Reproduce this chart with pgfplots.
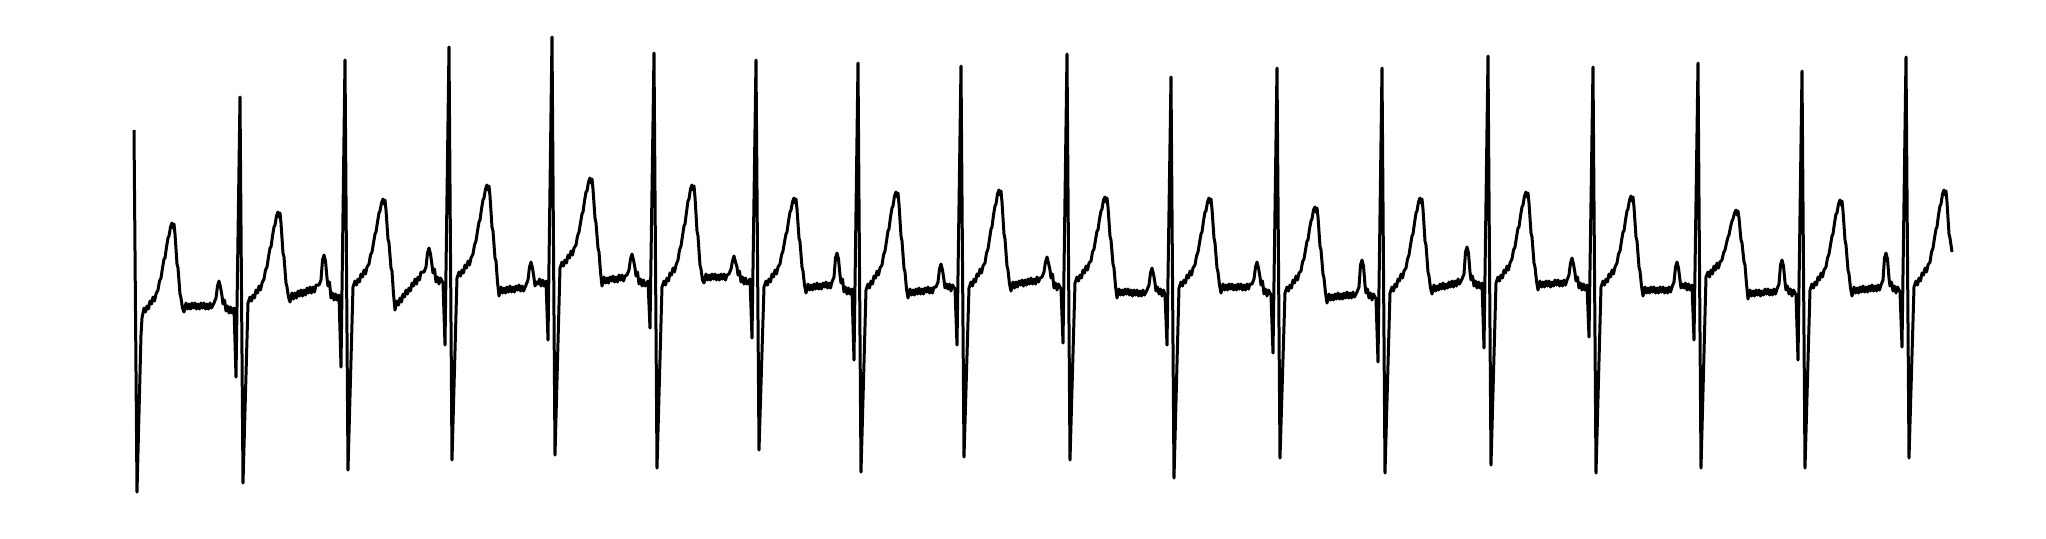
\documentclass[border=0pt]{standalone}
\usepackage{pgfplots}
\pgfplotsset{compat=1.18}
\begin{document}
\begin{tikzpicture}
\begin{axis}[
  at={(0,0)}, anchor=south west,
  width=511.5pt, height=134.5pt, scale only axis,
  xmin=0, xmax=2046, ymin=0, ymax=538, y dir=reverse,
  hide axis, clip=false]
\addplot[black, line width=0.75pt, line join=round, mark=none] coordinates {
(134,130)(137,492)(141,335)(142,318)
(144,308)(145.5,312)(147,306)(148.5,309)(150,301)(151.5,304)(153,297)(154.5,301)(156,294)
(158,290)(159.5,281)(161,278)(162.5,268)(164,259)(165,258)(166.5,247)(168,238)(169,236)(170.5,227)(172,223)(173,228)(174,224)(175,234)(177,264)(178,268)(180,294)(181,298)(182.5,308)(184,312)
(186,303)(187.5,309)(189,304)(190.5,309)(192,303)(193.5,308)(195,303)(196.5,309)(198,304)(199.5,309)(201,303)(202.5,308)(204,303)(205.5,309)(207,304)(208.5,309)(210,303)(211.5,308)
(214,303)(216,298)(217.5,286)(219,281)(220.5,287)(222,296)(223,304)(224.5,300)(226,311)(227.5,306)(229,313)(230.5,307)(232,313)(234,308)
(236,377)(240,97)(243,483)(248,303)
(250,297)(251.5,301)(253,295)(254.5,298)(256,290)(257.5,293)(259,286)(260.5,290)(262,283)
(264,279)(265.5,270)(267,267)(268.5,257)(270,248)(271,247)(272.5,236)(274,227)(275,225)(276.5,216)(278,212)(279,217)(280,213)(281,223)(283,253)(284,257)(286,283)(287,287)(288.5,297)(290,302)
(292,293)(293.5,299)(295,293)(296.5,298)(298,291)(299.5,296)(301,290)(302.5,296)(304,290)(305.5,295)(307,288)(308.5,293)(310,287)(311.5,293)(313,287)(314.5,292)(316,285)
(319,285)(321,280)(322.5,260)(324,255)(325.5,261)(327,278)(328,286)(329.5,282)(331,298)(332.5,293)(334,300)(335.5,294)(337,300)(339,295)
(341,367)(345,60)(348,470)(353,287)
(355,281)(356.5,285)(358,279)(359.5,282)(361,274)(362.5,277)(364,270)(365.5,274)(367,267)
(369,264)(370.5,255)(372,252)(373.5,243)(375,234)(376,232)(377.5,222)(379,213)(380,211)(381.5,203)(383,199)(384,204)(385,200)(386,210)(388,239)(389,243)(391,268)(392,271)(393.5,294)(395,310)
(397,301)(398.5,305)(400,298)(401.5,302)(403,294)(404.5,297)(406,290)(407.5,294)(409,288)(410.5,291)(412,283)(413.5,286)(415,279)(416.5,284)(418,277)(419.5,280)(421,272)
(424,272)(426,267)(427.5,253)(429,248)(430.5,254)(432,265)(433,273)(434.5,269)(436,282)(437.5,277)(439,284)(440.5,278)(443,283)
(445,345)(449,47)(452,460)(457,278)
(459,272)(460.5,276)(462,270)(463.5,273)(465,265)(466.5,268)(468,261)(469.5,265)(471,258)
(473,254)(474.5,245)(476,241)(477.5,231)(479,222)(480,220)(481.5,209)(483,200)(484,198)(485.5,189)(487,185)(488,190)(489,186)(490,196)(492,227)(493,231)(495,258)(496,261)(497.5,282)(499,296)
(501,287)(502.5,293)(504,288)(505.5,293)(507,287)(508.5,292)(510,286)(511.5,292)(513,287)(514.5,292)(516,286)(517.5,290)(519,285)(520.5,291)(522,286)(523.5,291)
(526,285)(528,280)(529.5,267)(531,262)(532.5,268)(534,278)(535,286)(536.5,282)(538,284)(539.5,279)(541,286)(542.5,280)(544,286)(546,281)
(548,340)(552,37)(555,455)(560,268)
(562,262)(563.5,266)(565,260)(566.5,263)(568,255)(569.5,258)(571,251)(572.5,255)(574,248)
(576,245)(577.5,236)(579,232)(580.5,223)(582,214)(583,212)(584.5,201)(586,192)(587,191)(588.5,182)(590,178)(591,183)(592,179)(593,189)(595,218)(596,223)(598,248)(599,252)(600.5,272)(602,286)
(604,277)(605.5,283)(607,278)(608.5,283)(610,277)(611.5,281)(613,276)(614.5,282)(616,277)(617.5,282)(619,275)(620.5,280)(622,275)(623.5,281)(625,276)
(627,275)(629,270)(630.5,259)(632,254)(633.5,260)(635,268)(636,276)(637.5,272)(639,284)(640.5,279)(642,286)(643.5,280)(645,286)(648,281)
(650,328)(654,53)(657,468)(662,287)
(664,281)(665.5,285)(667,278)(668.5,281)(670,273)(671.5,275)(673,268)(674.5,272)(676,265)
(678,260)(679.5,250)(681,246)(682.5,236)(684,226)(685,224)(686.5,212)(688,201)(689,199)(690.5,189)(692,185)(693,190)(694,186)(695,197)(697,231)(698,236)(700,265)(701,269)(702.5,280)(704,283)
(706,274)(707.5,280)(709,275)(710.5,280)(712,274)(713.5,279)(715,274)(716.5,280)(718,275)(719.5,280)(721,274)(722.5,279)(724,274)(725.5,280)(727,275)
(729,274)(731,269)(732.5,261)(734,256)(735.5,262)(737,267)(738,275)(739.5,271)(741,282)(742.5,277)(744,284)(745.5,278)(747,284)(750,279)
(752,338)(756,60)(759,450)(764,287)
(766,281)(767.5,285)(769,279)(770.5,282)(772,274)(773.5,277)(775,270)(776.5,274)(778,267)
(780,264)(781.5,255)(783,251)(784.5,242)(786,234)(787,232)(788.5,221)(790,212)(791,210)(792.5,202)(794,198)(795,203)(796,199)(797,209)(799,238)(800,242)(802,267)(803,271)(804.5,285)(806,293)
(808,284)(809.5,290)(811,285)(812.5,290)(814,284)(815.5,289)(817,283)(818.5,289)(820,284)(821.5,289)(823,283)(824.5,287)(826,282)(827.5,288)(829,283)(830.5,288)
(832,282)(834,277)(835.5,258)(837,253)(838.5,259)(840,275)(841,283)(842.5,279)(844,292)(845.5,287)(847,294)(848.5,288)(850,294)(852,289)
(854,360)(858,63)(861,472)(866,290)
(868,284)(869.5,288)(871,281)(872.5,284)(874,276)(875.5,278)(877,271)(878.5,275)(880,268)
(882,265)(883.5,255)(885,251)(886.5,241)(888,231)(889,229)(890.5,217)(892,208)(893,206)(894.5,196)(896,192)(897,197)(898,193)(899,204)(901,236)(902,241)(904,268)(905,272)(906.5,289)(908,298)
(910,289)(911.5,295)(913,290)(914.5,295)(916,289)(917.5,294)(919,288)(920.5,294)(922,289)(923.5,294)(925,288)(926.5,292)(928,287)(929.5,293)(931,288)(932.5,293)(934,287)
(936,287)(938,282)(939.5,269)(941,264)(942.5,270)(944,280)(945,288)(946.5,284)(948,289)(949.5,284)(951,291)(952.5,285)(955,289)
(957,345)(961,66)(964,457)(969,288)
(971,282)(972.5,286)(974,279)(975.5,282)(977,274)(978.5,276)(980,269)(981.5,273)(983,266)
(985,263)(986.5,253)(988,249)(989.5,239)(991,229)(992,227)(993.5,215)(995,206)(996,204)(997.5,194)(999,190)(1000,195)(1001,191)(1002,202)(1004,234)(1005,239)(1007,266)(1008,270)(1009.5,284)(1011,291)
(1013,282)(1014.5,288)(1016,282)(1017.5,287)(1019,281)(1020.5,285)(1022,280)(1023.5,286)(1025,280)(1026.5,285)(1028,279)(1029.5,284)(1031,278)(1032.5,284)(1034,279)(1035.5,284)(1037,277)(1038.5,282)(1040,278)
(1042,277)(1044,272)(1045.5,262)(1047,257)(1048.5,263)(1050,270)(1051,278)(1052.5,274)(1054,288)(1055.5,283)(1057,290)(1058.5,284)(1061,289)
(1063,343)(1067,54)(1070,460)(1075,283)
(1077,277)(1078.5,281)(1080,275)(1081.5,278)(1083,270)(1084.5,273)(1086,266)(1087.5,270)(1089,263)
(1091,261)(1092.5,252)(1094,249)(1095.5,240)(1097,231)(1098,230)(1099.5,219)(1101,211)(1102,209)(1103.5,200)(1105,197)(1106,202)(1107,198)(1108,207)(1110,236)(1111,240)(1113,264)(1114,268)(1115.5,286)(1117,298)
(1119,289)(1120.5,295)(1122,290)(1123.5,295)(1125,289)(1126.5,294)(1128,289)(1129.5,295)(1131,290)(1132.5,296)(1134,290)(1135.5,295)(1137,290)(1138.5,296)(1140,291)(1141.5,296)(1143,290)(1144.5,295)
(1147,290)(1149,285)(1150.5,273)(1152,268)(1153.5,274)(1155,283)(1156,291)(1157.5,287)(1159,294)(1160.5,289)(1162,296)(1163.5,290)(1165,295)
(1167,345)(1171,77)(1174,478)(1179,288)
(1181,282)(1182.5,286)(1184,280)(1185.5,283)(1187,275)(1188.5,278)(1190,271)(1191.5,275)(1193,268)
(1195,265)(1196.5,256)(1198,252)(1199.5,243)(1201,234)(1202,232)(1203.5,221)(1205,212)(1206,211)(1207.5,202)(1209,198)(1210,203)(1211,199)(1212,209)(1214,238)(1215,243)(1217,268)(1218,272)(1219.5,285)(1221,293)
(1223,284)(1224.5,290)(1226,285)(1227.5,290)(1229,284)(1230.5,289)(1232,284)(1233.5,290)(1235,285)(1236.5,290)(1238,284)(1239.5,289)(1241,284)(1242.5,290)(1244,285)(1245.5,290)(1247,284)(1248.5,289)(1250,284)
(1252,284)(1254,279)(1255.5,267)(1257,262)(1258.5,268)(1260,277)(1261,285)(1262.5,281)(1264,294)(1265.5,289)(1267,296)(1268.5,290)(1271,295)
(1273,353)(1277,68)(1280,458)(1285,293)
(1287,287)(1288.5,291)(1290,285)(1291.5,288)(1293,280)(1294.5,283)(1296,276)(1297.5,280)(1299,273)
(1301,271)(1302.5,262)(1304,259)(1305.5,250)(1307,241)(1308,240)(1309.5,229)(1311,221)(1312,219)(1313.5,210)(1315,207)(1316,212)(1317,208)(1318,217)(1320,246)(1321,250)(1323,274)(1324,278)(1325.5,293)(1327,303)
(1329,294)(1330.5,300)(1332,295)(1333.5,300)(1335,294)(1336.5,299)(1338,293)(1339.5,299)(1341,294)(1342.5,299)(1344,293)(1345.5,298)(1347,292)(1348.5,298)(1350,293)(1351.5,298)(1353,292)(1354.5,297)
(1357,292)(1359,287)(1360.5,265)(1362,260)(1363.5,266)(1365,285)(1366,293)(1367.5,289)(1369,298)(1370.5,293)(1372,300)(1373.5,294)(1376,299)
(1378,362)(1382,68)(1385,473)(1390,293)
(1392,287)(1393.5,291)(1395,284)(1396.5,287)(1398,279)(1399.5,281)(1401,274)(1402.5,278)(1404,271)
(1406,268)(1407.5,259)(1409,255)(1410.5,245)(1412,236)(1413,234)(1414.5,223)(1416,213)(1417,211)(1418.5,202)(1420,198)(1421,203)(1422,199)(1423,209)(1425,241)(1426,245)(1428,272)(1429,276)(1430.5,288)(1432,294)
(1434,285)(1435.5,291)(1437,286)(1438.5,290)(1440,284)(1441.5,289)(1443,283)(1444.5,289)(1446,284)(1447.5,288)(1449,282)(1450.5,287)(1452,281)(1453.5,287)(1455,281)(1456.5,286)(1458,279)(1459.5,284)
(1462,279)(1464,274)(1465.5,252)(1467,247)(1468.5,253)(1470,272)(1471,280)(1472.5,276)(1474,286)(1475.5,281)(1477,288)(1478.5,282)(1480,288)(1482,283)
(1484,348)(1488,56)(1491,465)(1496,283)
(1498,277)(1499.5,281)(1501,275)(1502.5,278)(1504,270)(1505.5,273)(1507,266)(1508.5,270)(1510,263)
(1512,259)(1513.5,250)(1515,247)(1516.5,237)(1518,228)(1519,227)(1520.5,216)(1522,207)(1523,205)(1524.5,196)(1526,192)(1527,197)(1528,193)(1529,203)(1531,233)(1532,237)(1534,263)(1535,267)(1536.5,281)(1538,290)
(1540,281)(1541.5,287)(1543,282)(1544.5,287)(1546,281)(1547.5,286)(1549,281)(1550.5,287)(1552,282)(1553.5,286)(1555,280)(1556.5,285)(1558,280)(1559.5,286)(1561,281)(1562.5,286)(1564,280)(1565.5,285)
(1567,280)(1569,275)(1570.5,263)(1572,258)(1573.5,264)(1575,273)(1576,281)(1577.5,277)(1579,288)(1580.5,283)(1582,290)(1583.5,284)(1585,290)(1587,285)
(1589,337)(1593,67)(1596,473)(1601,287)
(1603,281)(1604.5,285)(1606,279)(1607.5,282)(1609,274)(1610.5,277)(1612,270)(1613.5,274)(1615,267)
(1617,263)(1618.5,254)(1620,251)(1621.5,241)(1623,232)(1624,231)(1625.5,220)(1627,211)(1628,209)(1629.5,200)(1631,196)(1632,201)(1633,197)(1634,207)(1636,237)(1637,241)(1639,267)(1640,271)(1641.5,286)(1643,296)
(1645,287)(1646.5,293)(1648,288)(1649.5,293)(1651,287)(1652.5,292)(1654,287)(1655.5,293)(1657,288)(1658.5,293)(1660,287)(1661.5,292)(1663,287)(1664.5,293)(1666,288)(1667.5,293)(1669,287)(1670.5,292)
(1672,287)(1674,282)(1675.5,267)(1677,262)(1678.5,268)(1680,280)(1681,288)(1682.5,284)(1684,288)(1685.5,283)(1687,290)(1688.5,284)(1690,290)(1692,285)
(1694,340)(1698,63)(1701,468)(1706,277)
(1708,272)(1709.5,277)(1711,270)(1712.5,274)(1714,266)(1715.5,270)(1717,263)(1718.5,268)(1720,262)
(1722,260)(1723.5,253)(1725,250)(1726.5,243)(1728,237)(1729,235)(1730.5,227)(1732,221)(1733,219)(1734.5,213)(1736,210)(1737,215)(1738,211)(1739,218)(1741,240)(1742,243)(1744,262)(1745,265)(1746.5,284)(1748,299)
(1750,290)(1751.5,296)(1753,291)(1754.5,296)(1756,290)(1757.5,295)(1759,290)(1760.5,296)(1762,291)(1763.5,295)(1765,289)(1766.5,294)(1768,289)(1769.5,295)(1771,290)(1772.5,295)(1774,289)(1775.5,294)
(1777,289)(1779,284)(1780.5,265)(1782,260)(1783.5,266)(1785,282)(1786,290)(1787.5,286)(1789,294)(1790.5,289)(1792,296)(1793.5,290)(1796,295)
(1798,360)(1802,71)(1805,468)(1810,290)
(1812,284)(1813.5,288)(1815,282)(1816.5,285)(1818,277)(1819.5,280)(1821,273)(1822.5,277)(1824,270)
(1826,267)(1827.5,258)(1829,254)(1830.5,245)(1832,236)(1833,234)(1834.5,223)(1836,214)(1837,213)(1838.5,204)(1840,200)(1841,205)(1842,201)(1843,211)(1845,240)(1846,245)(1848,270)(1849,274)(1850.5,288)(1852,296)
(1854,287)(1855.5,293)(1857,288)(1858.5,293)(1860,287)(1861.5,292)(1863,286)(1864.5,292)(1866,287)(1867.5,292)(1869,286)(1870.5,291)(1872,285)(1873.5,291)(1875,286)(1876.5,291)(1878,285)(1879.5,290)
(1881,285)(1883,280)(1884.5,258)(1886,253)(1887.5,259)(1889,278)(1890,286)(1891.5,282)(1893,291)(1894.5,286)(1896,293)(1897.5,287)(1900,292)
(1902,347)(1906,57)(1909,458)(1914,287)
(1916,281)(1917.5,285)(1919,278)(1920.5,281)(1922,273)(1923.5,275)(1925,268)(1926.5,272)(1928,265)
(1930,262)(1931.5,252)(1933,248)(1934.5,238)(1936,229)(1937,227)(1938.5,215)(1940,206)(1941,204)(1942.5,194)(1944,190)(1945,195)(1946,191)(1947,202)(1949,234)(1950,238)(1952,252)
};
\end{axis}
\path (current axis.south west) rectangle (current axis.north east);
\end{tikzpicture}
\end{document}
